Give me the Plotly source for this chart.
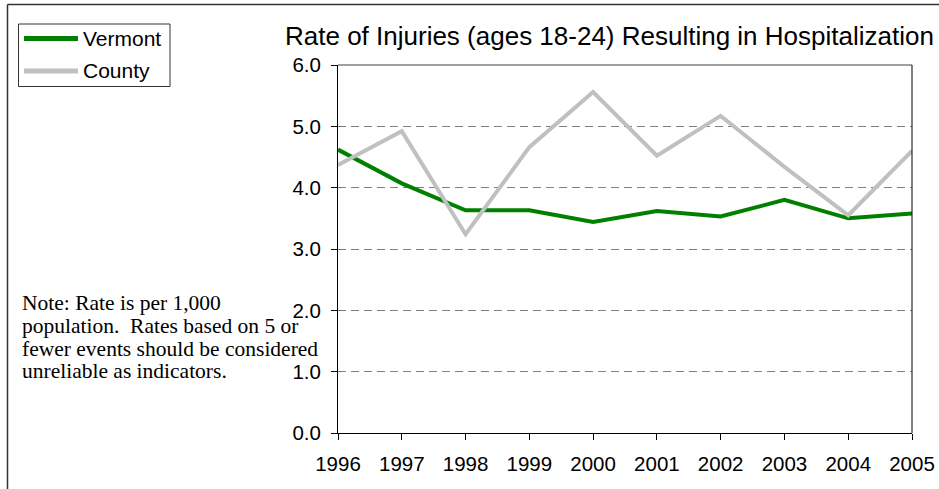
import plotly.graph_objects as go

# Injury hospitalization rates, ages 18-24 (per 1,000 population)
years = [1996, 1997, 1998, 1999, 2000, 2001, 2002, 2003, 2004, 2005]
year_labels = [str(y) for y in years]
series_names = ["Vermont", "County"]
vermont = [4.62, 4.07, 3.63, 3.63, 3.44, 3.62, 3.53, 3.80, 3.50, 3.58]
county = [4.37, 4.92, 3.24, 4.66, 5.56, 4.52, 5.17, 4.34, 3.55, 4.60]
y_ticks = [0, 1, 2, 3, 4, 5, 6]

title_text = "Rate of Injuries (ages 18-24) Resulting in Hospitalization"
note_lines = [
    "Note: Rate is per 1,000",
    "population.  Rates based on 5 or",
    "fewer events should be considered",
    "unreliable as indicators.",
]

W, H = 939, 489
L, R, T, B = 338, 27, 65, 56
PW, PH = W - L - R, H - T - B

SANS = "Liberation Sans, Arial, sans-serif"
SERIF = "Liberation Serif, Times New Roman, serif"
colors = {"Vermont": "#008000", "County": "#C0C0C0"}


def px(x):
    """Horizontal pixel -> paper coordinate."""
    return (x - L) / PW


def py(y):
    """Vertical pixel (from top) -> paper coordinate."""
    return (H - B - y) / PH


fig = go.Figure()
for name, vals in zip(series_names, [vermont, county]):
    fig.add_trace(go.Scatter(
        x=years, y=vals, name=name, mode="lines",
        line=dict(color=colors[name], width=4),
        showlegend=False, cliponaxis=False,
    ))

shapes = [
    # outer frame (top and left edges)
    dict(type="line", xref="paper", yref="paper", x0=px(7.5), x1=px(W + 5),
         y0=py(4.5), y1=py(4.5), line=dict(color="#333333", width=1.5)),
    dict(type="line", xref="paper", yref="paper", x0=px(7.5), x1=px(7.5),
         y0=py(4.5), y1=py(H + 5), line=dict(color="#333333", width=1.5)),
    # plot area top and right borders
    dict(type="line", xref="paper", yref="paper", x0=0, x1=1, y0=1, y1=1,
         line=dict(color="#808080", width=1.5)),
    dict(type="line", xref="paper", yref="paper", x0=1, x1=1, y0=0, y1=1,
         line=dict(color="black", width=1)),
    # legend box
    dict(type="rect", xref="paper", yref="paper", x0=px(18.5), x1=px(170),
         y0=py(24), y1=py(86.5), line=dict(color="#333333", width=1),
         fillcolor="white", layer="below"),
]
annotations = [
    dict(text=title_text, xref="paper", yref="paper", x=px(609), y=py(36),
         xanchor="center", yanchor="middle", showarrow=False,
         font=dict(family=SANS, size=26, color="black")),
]

legend_rows = [38.5, 71]
for name, row in zip(series_names, legend_rows):
    shapes.append(dict(type="line", xref="paper", yref="paper",
                       x0=px(24), x1=px(78), y0=py(row), y1=py(row),
                       line=dict(color=colors[name], width=5)))
    annotations.append(dict(text=name, xref="paper", yref="paper",
                            x=px(81), y=py(row), xanchor="left", yanchor="middle",
                            showarrow=False,
                            font=dict(family=SANS, size=21, color="black")))

for i, line in enumerate(note_lines):
    annotations.append(dict(text=line, xref="paper", yref="paper",
                            x=px(20), y=py(303 + 22.8 * i), xanchor="left",
                            yanchor="middle", showarrow=False,
                            font=dict(family=SERIF, size=21.5, color="black")))

fig.update_layout(
    width=W, height=H, autosize=False,
    margin=dict(l=L, r=R, t=T, b=B, pad=0, autoexpand=False),
    paper_bgcolor="white", plot_bgcolor="white",
    showlegend=False,
    shapes=shapes, annotations=annotations,
    xaxis=dict(
        range=[years[0], years[-1]], tickmode="array",
        tickvals=years, ticktext=year_labels,
        showgrid=False, zeroline=False, automargin=False,
        showline=True, linecolor="black", linewidth=1,
        ticks="outside", ticklen=6, tickcolor="black", tickwidth=1,
        ticklabelstandoff=6,
        tickfont=dict(family=SANS, size=20.5, color="black"),
    ),
    yaxis=dict(
        range=[0, 6], tickmode="array", tickvals=y_ticks,
        ticktext=[f"{v:.1f}" for v in y_ticks],
        showgrid=True, gridcolor="#808080", gridwidth=1, griddash="8px,5px",
        zeroline=False, automargin=False,
        showline=True, linecolor="black", linewidth=1,
        ticks="outside", ticklen=6, tickcolor="black", tickwidth=1,
        ticklabelstandoff=6,
        tickfont=dict(family=SANS, size=20.5, color="black"),
    ),
)

fig.write_html("out.html")
